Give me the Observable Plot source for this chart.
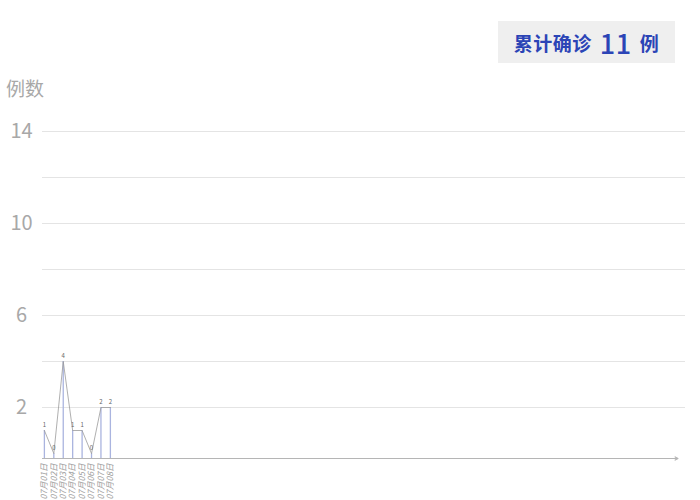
<!DOCTYPE html>
<html><head><meta charset="utf-8">
<script src="https://cdn.jsdelivr.net/npm/d3@7"></script>
<script src="https://cdn.jsdelivr.net/npm/@observablehq/plot@0.6"></script>
<style>
body{margin:0;background:#fff;font-family:"Noto Sans CJK SC","Noto Sans",sans-serif;}
#wrap{position:relative;width:700px;height:500px;overflow:hidden;}
#badge{position:absolute;left:498px;top:21px;width:177px;height:42px;background:#efefef;color:#2b44b6;font-weight:bold;font-size:19px;display:flex;align-items:center;justify-content:center;letter-spacing:0.5px;}
#badge .n{font-size:27px;margin:0 8px;font-family:"Noto Sans CJK SC",sans-serif;font-weight:500;}
#ylab{position:absolute;left:6px;top:74px;font-size:19px;color:#a8a8a8;}
#chart{position:absolute;left:0;top:0;}
</style></head>
<body><div id="wrap">
<div id="chart"></div>
<div id="badge">累计确诊<span class="n">11</span>例</div>
<div id="ylab">例数</div>
</div>
<script>
const dates = ["07月01日","07月02日","07月03日","07月04日","07月05日","07月06日","07月07日","07月08日"];
const counts = [1,0,4,1,1,0,2,2];
const yTicks = [2,6,10,14];
const gridTicks = [2,4,6,8,10,12,14];

const data = dates.map((d,i)=>({i, date:d, v:counts[i]}));
const xEnd = 68;
const axisDrop = 5;            // px the axis line sits below zero
const pxPerUnit = 322 / 14;    // plot height / y span
const base = -axisDrop / pxPerUnit;

const chart = Plot.plot({
  width:700, height:500,
  marginLeft:42, marginRight:15, marginTop:131, marginBottom:47,
  style:{fontFamily:'"Noto Sans CJK SC", sans-serif', background:"transparent"},
  x:{type:"linear", domain:[-0.2, xEnd], axis:null, label:null},
  y:{domain:[0,14], axis:null, label:null, clamp:false},
  marks:[
    Plot.ruleY(gridTicks, {stroke:"#e4e4e4", strokeWidth:1}),
    Plot.axisY({ticks:yTicks, tickSize:0, fontSize:20, fill:"#a8a8a8", textAnchor:"middle", dx:-12, label:null}),
    Plot.arrow([{x1:-0.2, x2:xEnd-0.8}], {x1:"x1", x2:"x2", y1:0, y2:0, dy:axisDrop, stroke:"#b5b5b5", strokeWidth:1.2, headLength:4}),
    Plot.ruleX(data, {x:"i", y1:() => base, y2:"v", stroke:"#aab4df", strokeWidth:1.3}),
    Plot.line(data, {x:"i", y:"v", stroke:"#9a9a9a", strokeWidth:0.8}),
    Plot.text(data, {x:"i", y:"v", text:d=>String(d.v), dy:-5, fontSize:6, fill:"#666"}),
    Plot.text(data, {x:"i", y:0, text:"date", rotate:-90, textAnchor:"end", dy:10, fontSize:8.5, fill:"#a0a0a0", fontStyle:"italic"})
  ]
});
document.getElementById("chart").appendChild(chart);
</script>
</body></html>
